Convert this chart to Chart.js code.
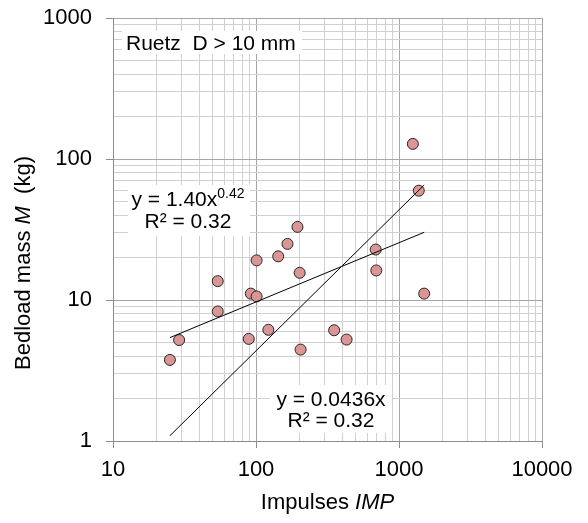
<!DOCTYPE html>
<html lang="en">
<head>
<meta charset="UTF-8">
<title>Ruetz bedload mass vs impulses</title>
<script src="https://cdn.jsdelivr.net/npm/chart.js"></script>
<style>
    body { margin: 0; background: #fff; }
    #wrap { width: 588px; height: 523px; }
</style>
</head>
<body>
<div id="wrap"><canvas id="bedloadChart" width="588" height="523"></canvas></div>
<script>
    const impulses = [25, 29, 54, 54, 89, 92, 101, 101, 122, 143, 166, 195, 202, 205, 352, 430, 687, 694, 1250, 1375, 1500];
    const massKg   = [3.76, 5.2, 13.6, 8.3, 5.3, 11.1, 10.6, 19.1, 6.15, 20.4, 25, 33, 15.6, 4.45, 6.1, 5.24, 22.8, 16.2, 128, 59.6, 11.1];

    // Trendlines as printed on the chart
    const powerCoef = 1.40;
    const powerExp = 0.42;
    const powerR2 = 0.32;
    const linSlope = 0.0436;
    const linR2 = 0.32;

    // Axis labels
    const xTickLabels = [10, 100, 1000, 10000];
    const yTickLabels = [1, 10, 100, 1000];

    const FONT = '"Liberation Sans", Arial, sans-serif';
    const MAJOR_GRID = '#a6a6a6';
    const MINOR_GRID = '#d0d0d0';

    function isMajor(v) {
        const l = Math.log10(v);
        return Math.abs(l - Math.round(l)) < 1e-9;
    }

    // 1..9 x 10^n for every decade between the first and last label
    function logTicks(labels) {
        const out = [];
        const e0 = Math.round(Math.log10(labels[0]));
        const e1 = Math.round(Math.log10(labels[labels.length - 1]));
        for (let e = e0; e < e1; e++) {
            for (let k = 1; k <= 9; k++) out.push({ value: k * Math.pow(10, e) });
        }
        out.push({ value: labels[labels.length - 1] });
        return out;
    }

    const xMin = Math.min(...impulses);
    const xMax = Math.max(...impulses);
    const powerLine = [xMin, xMax].map(x => ({ x: x, y: powerCoef * Math.pow(x, powerExp) }));
    const linearLine = [xMin, xMax].map(x => ({ x: x, y: linSlope * x }));
    const points = impulses.map((x, i) => ({ x: x, y: massKg[i] }));

    function gridColor(ctx) {
        return ctx.tick && isMajor(ctx.tick.value) ? MAJOR_GRID : MINOR_GRID;
    }
    function tickMarkColor(ctx) {
        return ctx.tick && isMajor(ctx.tick.value) ? '#8c8c8c' : 'rgba(0,0,0,0)';
    }

    // draw a list of text runs (mixed fonts) centred or left-aligned at x
    function drawRuns(ctx, runs, x, y, align) {
        let total = 0;
        runs.forEach(r => { ctx.font = r.font; total += ctx.measureText(r.text).width; });
        let cx = align === 'left' ? x : x - total / 2;
        runs.forEach(r => {
            ctx.font = r.font;
            ctx.fillText(r.text, cx, y + (r.dy || 0));
            cx += ctx.measureText(r.text).width;
        });
    }

    const labelsPlugin = {
        id: 'labelsPlugin',
        beforeDatasetsDraw(chart) {
            const ctx = chart.ctx;
            const a = chart.chartArea;
            ctx.save();
            ctx.fillStyle = '#fff';
            ctx.fillRect(a.left + 9, a.top + 13, 180, 23);
            ctx.fillRect(a.left + 15, a.top + 167, 122, 51);
            ctx.fillRect(a.left + 157, a.top + 367, 122, 48);

            ctx.fillStyle = '#000';
            ctx.textBaseline = 'alphabetic';
            const f = '21px ' + FONT;
            const sup = '14px ' + FONT;
            drawRuns(ctx, [{ text: 'Ruetz  D > 10 mm', font: f }], a.left + 13, a.top + 32, 'left');

            drawRuns(ctx, [
                { text: 'y = ' + powerCoef.toFixed(2) + 'x', font: f },
                { text: powerExp.toFixed(2), font: sup, dy: -8 }
            ], a.left + 75, a.top + 188);
            drawRuns(ctx, [{ text: 'R\u00b2 = ' + powerR2.toFixed(2), font: f }], a.left + 75, a.top + 210);

            drawRuns(ctx, [{ text: 'y = ' + linSlope + 'x', font: f }], a.left + 218, a.top + 388);
            drawRuns(ctx, [{ text: 'R\u00b2 = ' + linR2.toFixed(2), font: f }], a.left + 218, a.top + 409);
            ctx.restore();
        },
        afterDraw(chart) {
            const ctx = chart.ctx;
            const a = chart.chartArea;
            const f = '22px ' + FONT;
            const fi = 'italic 22px ' + FONT;
            ctx.save();
            ctx.fillStyle = '#000';
            ctx.textBaseline = 'middle';
            drawRuns(ctx, [
                { text: 'Impulses ', font: f },
                { text: 'IMP', font: fi }
            ], (a.left + a.right) / 2, 503);

            ctx.translate(24, 263);
            ctx.rotate(-Math.PI / 2);
            drawRuns(ctx, [
                { text: 'Bedload mass ', font: f },
                { text: 'M', font: fi },
                { text: '  (kg)', font: f }
            ], 0, 0);
            ctx.restore();
        }
    };

    const tickFont = { family: FONT, size: 22 };

    new Chart(document.getElementById('bedloadChart'), {
        type: 'scatter',
        data: {
            datasets: [
                {
                    type: 'line',
                    data: powerLine,
                    borderColor: '#000',
                    borderWidth: 1,
                    pointRadius: 0,
                    fill: false
                },
                {
                    type: 'line',
                    data: linearLine,
                    borderColor: '#000',
                    borderWidth: 1,
                    pointRadius: 0,
                    fill: false
                },
                {
                    data: points,
                    backgroundColor: '#d99694',
                    borderColor: '#262626',
                    borderWidth: 1,
                    pointRadius: 5.5
                }
            ]
        },
        options: {
            responsive: false,
            animation: false,
            devicePixelRatio: 1,
            layout: { padding: { top: 18, right: 46, left: 0, bottom: 0 } },
            plugins: {
                legend: { display: false },
                tooltip: { enabled: false }
            },
            scales: {
                x: {
                    type: 'logarithmic',
                    min: xTickLabels[0],
                    max: xTickLabels[xTickLabels.length - 1],
                    afterBuildTicks: s => { s.ticks = logTicks(xTickLabels); },
                    afterFit: s => {
                        s.height = 82;
                        s.paddingLeft = 0;
                        s.paddingRight = 0;
                    },
                    grid: { color: gridColor, tickColor: tickMarkColor, tickLength: 7, lineWidth: 1 },
                    border: { color: '#8c8c8c' },
                    ticks: {
                        autoSkip: false,
                        maxRotation: 0,
                        padding: 9,
                        color: '#000',
                        font: tickFont,
                        callback: v => xTickLabels.includes(v) ? String(v) : ''
                    }
                },
                y: {
                    type: 'logarithmic',
                    min: yTickLabels[0],
                    max: yTickLabels[yTickLabels.length - 1],
                    afterBuildTicks: s => { s.ticks = logTicks(yTickLabels); },
                    afterFit: s => {
                        s.width = 113;
                        s.paddingTop = 0;
                        s.paddingBottom = 0;
                    },
                    grid: { color: gridColor, tickColor: tickMarkColor, tickLength: 7, lineWidth: 1 },
                    border: { color: '#8c8c8c' },
                    ticks: {
                        autoSkip: false,
                        padding: 14,
                        color: '#000',
                        font: tickFont,
                        callback: v => yTickLabels.includes(v) ? String(v) : ''
                    }
                }
            }
        },
        plugins: [labelsPlugin]
    });
</script>
</body>
</html>
